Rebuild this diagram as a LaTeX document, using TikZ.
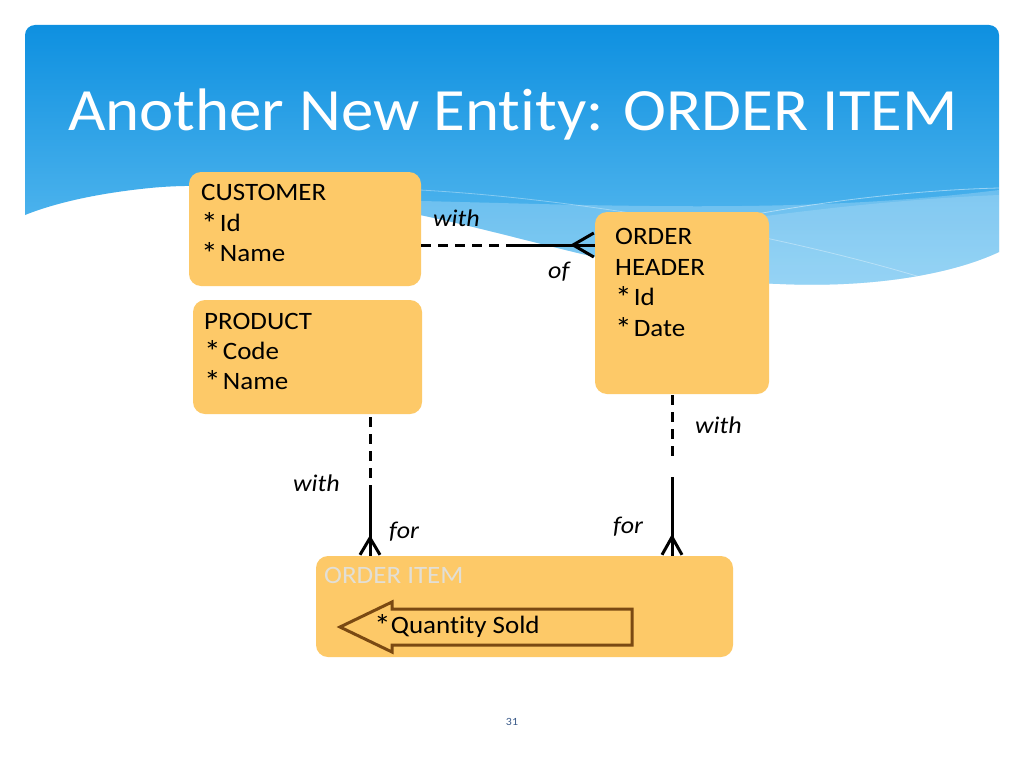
\documentclass[tikz,border=0pt]{standalone}
\usepackage{fontspec}
\setmainfont[Ligatures=CommonOff, FakeStretch=1.08]{Carlito}
\usetikzlibrary{calc}
\definecolor{boxfill}{HTML}{FDC968}
\definecolor{bluetop}{HTML}{0E90E0}
\definecolor{bluebot}{HTML}{62BFF1}
\definecolor{arrowbrown}{HTML}{7A4912}
\definecolor{paletext}{HTML}{E2DFD6}
\definecolor{pagenum}{HTML}{3A5A8A}
\newcommand{\bigast}{{\fontsize{31}{29}\selectfont\raisebox{-3pt}{*}}}
\newcommand{\astsp}{\bigast\kern2pt}
\tikzset{
  entity/.style={rectangle, rounded corners=12pt, fill=boxfill, inner sep=0pt},
  etext/.style={anchor=base west, inner sep=0pt, font=\fontsize{25}{29}\selectfont},
  rlabel/.style={anchor=base west, inner sep=0pt, font=\fontsize{24}{29}\selectfont\itshape},
  conn/.style={line width=3pt, black},
  dashconn/.style={conn, dash pattern=on 10pt off 7pt},
}
\begin{document}
\begin{tikzpicture}[x=1pt,y=-1pt]
\useasboundingbox (0,0) rectangle (1024,768);
\fill[white] (0,0) rectangle (1024,768);

% blue header with wavy bottom
\def\bluepath{(25,215) -- (25,35) arc[start angle=180,end angle=90,radius=10pt]
  -- (989,25) arc[start angle=90,end angle=0,radius=10pt]
  -- (999,252) .. controls (950,275) and (870,288) .. (780,284)
  .. controls (650,280) and (540,240) .. (420,215)
  .. controls (330,196) and (230,180) .. (150,188)
  .. controls (90,194) and (50,205) .. (25,215) -- cycle}
\shade[top color=bluetop, bottom color=bluebot] \bluepath;
\begin{scope}
  \clip \bluepath;
  \fill[white, opacity=0.22] (380,200) .. controls (600,205) and (800,215) .. (999,190)
     -- (999,300) -- (380,300) -- cycle;
  \fill[white, opacity=0.15] (600,240) .. controls (760,215) and (880,200) .. (999,195)
     -- (999,300) -- (600,300) -- cycle;
  \draw[white, opacity=0.45, line width=0.8pt] (700,225) .. controls (820,200) and (920,190) .. (999,188);
  \draw[white, opacity=0.35, line width=0.8pt] (420,190) .. controls (600,200) and (800,240) .. (930,280);
\end{scope}

\node[anchor=base west, inner sep=0pt, text=white, font=\fontsize{60}{70}\selectfont] (title) at (68,130) {Another New Entity: ORDER ITEM};

% entities
\node[entity, minimum width=232pt, minimum height=114pt] (cust) at (305,229) {};
\node[entity, minimum width=229pt, minimum height=114pt] (prod) at (307.5,357) {};
\node[entity, minimum width=174pt, minimum height=182pt] (hdr) at (682,303) {};
\node[entity, minimum width=417pt, minimum height=101pt] (item) at (524.5,606.5) {};

\node[etext] (cust1) at (201,200) {CUSTOMER};
\node[etext] (cust2) at (201,231) {\astsp Id};
\node[etext] (cust3) at (201,261) {\astsp Name};

\node[etext] (prod1) at (204,329) {PRODUCT};
\node[etext] (prod2) at (204,359) {\astsp Code};
\node[etext] (prod3) at (204,389) {\astsp Name};

\node[etext] (hdr1) at (615,244) {ORDER};
\node[etext] (hdr2) at (615,275) {HEADER};
\node[etext] (hdr3) at (615,305) {\astsp Id};
\node[etext] (hdr4) at (615,336) {\astsp Date};

\node[etext, text=paletext] (item1) at (324,583) {ORDER ITEM};
\filldraw[fill=boxfill, draw=arrowbrown, line width=3pt, line join=miter]
  (340,627) -- (392,602) -- (392,609) -- (632,609) -- (632,645) -- (392,645) -- (392,652) -- cycle;
\node[etext] (qty) at (374,633) {\bigast{}Quantity Sold};

% customer -- order header
\coordinate (c1a) at ([yshift=-16pt]cust.east);
\coordinate (c1b) at (hdr.west |- c1a);
\coordinate (c1m) at (515,245);
\coordinate (c1x) at (573,245);
\draw[dashconn] (c1a) -- (c1m);
\draw[conn] (c1m) -- (c1b);
\draw[conn] ($(c1b)+(-1,-12)$) -- (c1x) -- ($(c1b)+(-1,12)$);
\node[rlabel] (l1) at (433,226) {with};
\node[rlabel] (l2) at (548,278) {of};

% product -- order item
\coordinate (px) at (370,0);
\coordinate (p1) at (prod.south -| px);
\coordinate (p2) at (370,495);
\coordinate (p3) at (item.north -| px);
\coordinate (pa) at (370,538);
\draw[dashconn] ([yshift=-3pt]p1) -- (p2);
\draw[conn] (p2) -- (p3);
\draw[conn] ($(p3)+(-10,-1)$) -- (pa) -- ($(p3)+(10,-1)$);
\node[rlabel] (l3) at (293,491) {with};
\node[rlabel] (l4) at (389,538) {for};

% order header -- order item
\coordinate (hx) at (672,0);
\coordinate (h1) at (hdr.south -| hx);
\coordinate (h2) at (672,460);
\coordinate (h3) at (672,477);
\coordinate (h4) at (item.north -| hx);
\coordinate (ha) at (672,537);
\draw[dashconn] ([yshift=-1pt]h1) -- (h2);
\draw[conn] (h3) -- (h4);
\draw[conn] ($(h4)+(-10,-1)$) -- (ha) -- ($(h4)+(10,-1)$);
\node[rlabel] (l5) at (695,433) {with};
\node[rlabel] (l6) at (613,533) {for};

\node[inner sep=0pt, text=pagenum, font=\fontsize{11}{13}\selectfont] (pg) at (512,722) {31};
\end{tikzpicture}
\end{document}
